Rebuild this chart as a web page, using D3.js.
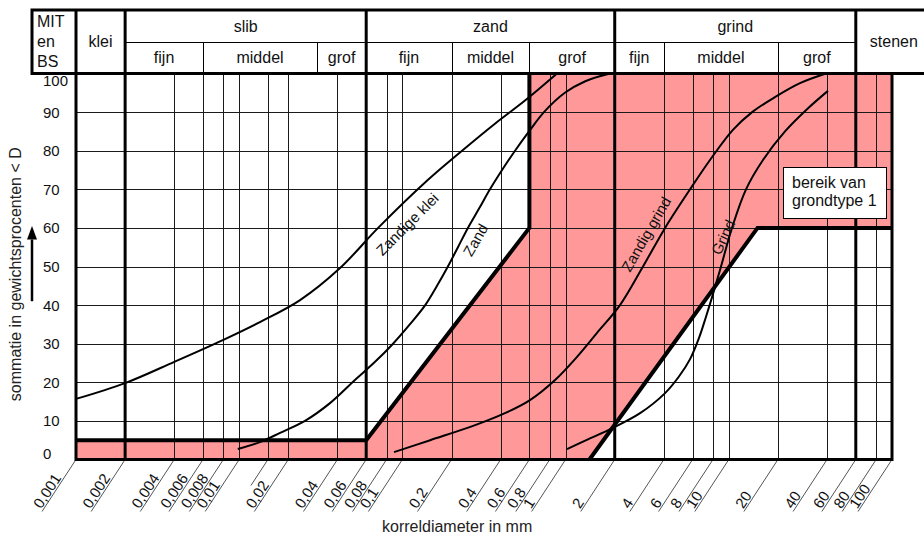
<!DOCTYPE html>
<html>
<head>
<meta charset="utf-8">
<script src="https://cdn.jsdelivr.net/npm/d3@7"></script>
<style>
  html, body { margin: 0; padding: 0; background: #fff; }
  svg { display: block; font-family: "Liberation Sans", Arial, sans-serif; }
</style>
</head>
<body>
<svg id="chart" width="924" height="540"></svg>
<script>
// ---- grain size axis (mm) ----
const tickValues = [0.001, 0.002, 0.004, 0.006, 0.008, 0.01, 0.02, 0.04, 0.06, 0.08, 0.1, 0.2, 0.4, 0.6, 0.8, 1, 2, 4, 6, 8, 10, 20, 40, 60, 80, 100];
const tickLabels = ["0,001", "0,002", "0,004", "0,006", "0,008", "0,01", "0,02", "0,04", "0,06", "0,08", "0,1", "0,2", "0,4", "0,6", "0,8", "1", "2", "4", "6", "8", "10", "20", "40", "60", "80", "100"];
const extraGrid = [0.015];
const heavyGrid = [0.002, 0.06, 2, 60];
const percentTicks = [0, 10, 20, 30, 40, 50, 60, 70, 80, 90, 100];

// ---- classification header (MIT en BS) ----
const fractionNames = ["slib", "zand", "grind"];
const fractionBounds = [[0.002, 0.06], [0.06, 2], [2, 60]];
const subNames = ["fijn", "middel", "grof"];
const subBounds = [[0.002, 0.006, 0.03, 0.06], [0.06, 0.2, 0.6, 2], [2, 4, 20, 60]];

// ---- grading curves: diameter (mm) / cumulative weight percentage ----
const zandigeKleiD = [0.001, 0.002, 0.004, 0.008, 0.0134, 0.0236, 0.0415, 0.071, 0.143, 0.232, 0.369, 0.564, 0.886];
const zandigeKleiP = [15.7, 19.8, 25.3, 31.0, 35.6, 41.3, 49.6, 60.0, 72.4, 80.0, 87.0, 93.0, 100];

const zandD = [0.0098, 0.0134, 0.0178, 0.0253, 0.036, 0.0512, 0.068, 0.0876, 0.111, 0.138, 0.163, 0.190, 0.219, 0.252, 0.295, 0.344, 0.408, 0.490, 0.597, 0.737, 0.99, 1.32, 1.87];
const zandP = [2.7, 4.5, 6.9, 10.0, 14.6, 20.6, 25.3, 30, 35, 40, 45, 50, 55, 60, 65, 70, 75, 80, 85, 90, 95, 98, 100];

const zandigGrindD = [0.0888, 0.148, 0.279, 0.425, 0.605, 0.862, 1.175, 1.558, 2.154, 2.98, 4.07, 5.79, 7.67, 10.6, 13.9, 19.2, 27.3, 39.4];
const zandigGrindP = [1.9, 5.0, 8.9, 12.0, 15.4, 20.6, 26.6, 32.8, 40, 50, 60, 70, 77.6, 85.4, 90.0, 93.9, 97.5, 100];

const grindD = [1.02, 1.35, 1.95, 2.86, 4.07, 4.95, 5.79, 6.57, 7.25, 7.89, 8.96, 10.46, 12.75, 16.2, 22.1, 30.6, 40.5];
const grindP = [2.7, 5.1, 8.2, 12.0, 17.2, 21.5, 26, 31.5, 37, 42, 50, 60, 70, 77.6, 85, 91, 95.5];

const curveNames = ["Zandige klei", "Zand", "Zandig grind", "Grind"];
const curveLabelD = [0.107, 0.28, 3.11, 9.22];
const curveLabelP = [61, 56.9, 58.4, 57.6];

// ---- range of soil type 1 ----
const bandUpperD = [0.001, 0.06, 0.6, 0.6];
const bandUpperP = [5, 5, 60, 100];
const bandLowerD = [1.4, 15, 100];
const bandLowerP = [0, 60, 60];
const bandNote = ["bereik van", "grondtype 1"];
const bandNoteD = 21.5;
const bandNoteP = 75.8;

// ---- drawing ----
const W = 924, H = 540;
const svg = d3.select("#chart");

const x = d3.scaleLog().domain([0.001, 100]).range([76, 892]);
const y = d3.scaleLinear().domain([0, 100]).range([459.5, 73.5]);
const crisp = v => Math.round(v) + 0.5;

const headerTop = 10, headerMid = 42, headerBottom = y(100), headerLeft = 32;
const pink = "#ff9999";

// shaded band
const bandPoly = [[bandUpperD[0], 0]]
  .concat(d3.zip(bandUpperD, bandUpperP))
  .concat([[x.domain()[1], 100]])
  .concat(d3.zip(bandLowerD, bandLowerP).reverse());
svg.append("path")
  .attr("d", d3.line().x(d => x(d[0])).y(d => y(d[1]))(bandPoly) + "Z")
  .attr("fill", pink);

// thin grid
const grid = svg.append("g").attr("stroke", "#1a1a1a").attr("stroke-width", 1);
tickValues.concat(extraGrid).forEach(v => {
  grid.append("line")
    .attr("x1", crisp(x(v))).attr("x2", crisp(x(v)))
    .attr("y1", y(100)).attr("y2", y(0));
});
percentTicks.forEach(p => {
  grid.append("line")
    .attr("x1", x(0.001)).attr("x2", x(100))
    .attr("y1", crisp(y(p))).attr("y2", crisp(y(p)));
});

// heavy fraction boundaries
heavyGrid.forEach(v => {
  svg.append("line")
    .attr("x1", x(v)).attr("x2", x(v))
    .attr("y1", y(100)).attr("y2", y(0))
    .attr("stroke", "#000").attr("stroke-width", 3);
});

// leader lines and rotated tick labels below the plot
const leaderDx = -34, leaderDy = 52;
const axisG = svg.append("g");
tickValues.forEach((v, i) => {
  const x0 = x(v), y0 = y(0);
  axisG.append("line")
    .attr("x1", x0).attr("y1", y0)
    .attr("x2", x0 + leaderDx).attr("y2", y0 + leaderDy)
    .attr("stroke", "#555").attr("stroke-width", 1);
  axisG.append("text")
    .attr("transform", `translate(${x0 + leaderDx + 1},${y0 + leaderDy - 1}) rotate(-57)`)
    .attr("dy", -2)
    .attr("font-size", 15)
    .attr("fill", "#111")
    .text(tickLabels[i]);
});
extraGrid.forEach(v => {
  const x0 = x(v), y0 = y(0);
  axisG.append("line")
    .attr("x1", x0).attr("y1", y0)
    .attr("x2", x0 + leaderDx / 2).attr("y2", y0 + leaderDy / 2)
    .attr("stroke", "#555").attr("stroke-width", 1);
});

// grading curves
const curveData = [
  d3.zip(zandigeKleiD, zandigeKleiP),
  d3.zip(zandD, zandP),
  d3.zip(zandigGrindD, zandigGrindP),
  d3.zip(grindD, grindP)
];
const line = d3.line().x(d => x(d[0])).y(d => y(d[1])).curve(d3.curveCatmullRom.alpha(0.5));
curveData.forEach(c => {
  svg.append("path")
    .attr("d", line(c))
    .attr("fill", "none")
    .attr("stroke", "#000")
    .attr("stroke-width", 2);
});

// band outline
const straight = d3.line().x(d => x(d[0])).y(d => y(d[1]));
[d3.zip(bandUpperD, bandUpperP), d3.zip(bandLowerD, bandLowerP)].forEach(seg => {
  svg.append("path")
    .attr("d", straight(seg))
    .attr("fill", "none").attr("stroke", "#000").attr("stroke-width", 4)
    .attr("stroke-linejoin", "miter");
});

// curve names
const curveAngles = [-45, -60, -60, -65];
curveNames.forEach((n, i) => {
  svg.append("text")
    .attr("transform", `translate(${x(curveLabelD[i])},${y(curveLabelP[i])}) rotate(${curveAngles[i]})`)
    .attr("text-anchor", "middle")
    .attr("dominant-baseline", "central")
    .attr("font-size", 15)
    .attr("fill", "#111")
    .text(n);
});

// band note
const noteX = x(bandNoteD), noteY = y(bandNoteP);
svg.append("rect")
  .attr("x", crisp(noteX)).attr("y", crisp(noteY))
  .attr("width", 103).attr("height", 51)
  .attr("fill", "#fff").attr("stroke", "#000").attr("stroke-width", 1);
bandNote.forEach((t, i) => {
  svg.append("text")
    .attr("x", noteX + 9).attr("y", noteY + 21 + i * 18)
    .attr("font-size", 16).attr("fill", "#111")
    .text(t);
});

// plot frame
svg.append("rect")
  .attr("x", x(0.001)).attr("y", y(100))
  .attr("width", x(100) - x(0.001)).attr("height", y(0) - y(100))
  .attr("fill", "none").attr("stroke", "#000").attr("stroke-width", 3);

// percentage labels
percentTicks.forEach(p => {
  svg.append("text")
    .attr("x", 43)
    .attr("y", Math.min(Math.max(y(p), 80), 453))
    .attr("dominant-baseline", "central")
    .attr("font-size", 15).attr("fill", "#111")
    .text(p);
});

// header
const hdr = svg.append("g");
hdr.append("rect")
  .attr("x", headerLeft).attr("y", headerTop)
  .attr("width", W + 20 - headerLeft).attr("height", headerBottom - headerTop)
  .attr("fill", "#fff").attr("stroke", "#000").attr("stroke-width", 3);
// thin row divider inside slib/zand/grind
hdr.append("line")
  .attr("x1", x(0.002)).attr("x2", x(60))
  .attr("y1", crisp(headerMid)).attr("y2", crisp(headerMid))
  .attr("stroke", "#000").attr("stroke-width", 1);
// thin subdivisions
subBounds.forEach(b => {
  b.slice(1, -1).forEach(v => {
    hdr.append("line")
      .attr("x1", crisp(x(v))).attr("x2", crisp(x(v)))
      .attr("y1", headerMid).attr("y2", headerBottom)
      .attr("stroke", "#000").attr("stroke-width", 1);
  });
});
// heavy column boundaries
[0.001].concat(heavyGrid).forEach(v => {
  hdr.append("line")
    .attr("x1", x(v)).attr("x2", x(v))
    .attr("y1", headerTop).attr("y2", headerBottom)
    .attr("stroke", "#000").attr("stroke-width", 3);
});
hdr.append("line")
  .attr("x1", headerLeft).attr("x2", W + 20)
  .attr("y1", headerBottom).attr("y2", headerBottom)
  .attr("stroke", "#000").attr("stroke-width", 3);

const hText = (tx, ty, t, anchor) => hdr.append("text")
  .attr("x", tx).attr("y", ty)
  .attr("text-anchor", anchor || "middle")
  .attr("font-size", 16).attr("fill", "#111")
  .text(t);

["MIT", "en", "BS"].forEach((t, i) => hText(headerLeft + 5, 27 + i * 20, t, "start"));
hText((x(0.001) + x(0.002)) / 2, 47, "klei");
fractionNames.forEach((n, i) => {
  hText((x(fractionBounds[i][0]) + x(fractionBounds[i][1])) / 2, 32, n);
  subNames.forEach((s, j) => {
    hText((x(subBounds[i][j]) + x(subBounds[i][j + 1])) / 2, 63, s);
  });
});
hText(x(60) + 14, 47, "stenen", "start");

// axis titles
svg.append("text")
  .attr("x", 382).attr("y", 532)
  .attr("font-size", 16).attr("fill", "#222")
  .text("korreldiameter in mm");

svg.append("text")
  .attr("transform", `translate(21,${y(48)}) rotate(-90)`)
  .attr("text-anchor", "middle")
  .attr("font-size", 16).attr("fill", "#222")
  .text("sommatie in gewichtsprocenten < D");

// upward arrow beside the title
svg.append("line")
  .attr("x1", 32).attr("x2", 32)
  .attr("y1", y(41)).attr("y2", y(57))
  .attr("stroke", "#000").attr("stroke-width", 2.5);
svg.append("path")
  .attr("d", `M27,${y(57)} L37,${y(57)} L32,${y(60.5)} Z`)
  .attr("fill", "#000");
</script>
</body>
</html>
